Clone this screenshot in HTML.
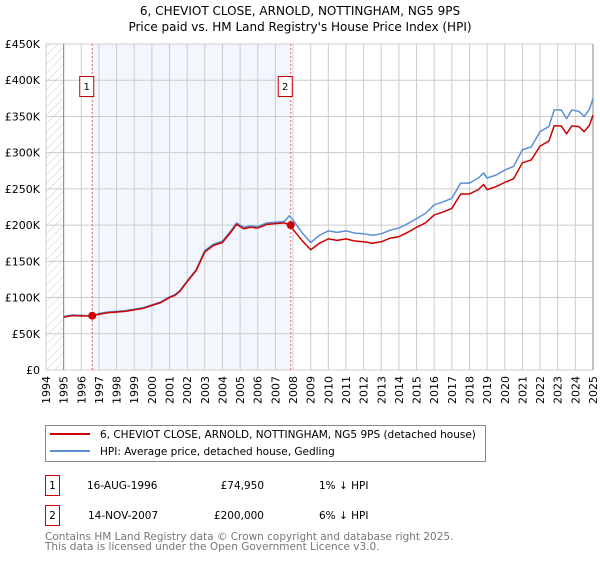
<!DOCTYPE html>
<html><head><meta charset="utf-8"><style>
body{margin:0;background:#fff;font-family:"Liberation Sans","DejaVu Sans",sans-serif;}
svg text{font-family:"DejaVu Sans","Liberation Sans",sans-serif;}
</style></head><body>
<svg id="chart" width="600" height="560" viewBox="0 0 600 560" xmlns="http://www.w3.org/2000/svg">
<defs><pattern id="hatch" width="6" height="6" patternUnits="userSpaceOnUse" patternTransform="rotate(45)"><line x1="0" y1="0" x2="0" y2="6" stroke="#ccc" stroke-width="1"/></pattern></defs>
<text x="300" y="15" text-anchor="middle" font-size="12" fill="#000">6, CHEVIOT CLOSE, ARNOLD, NOTTINGHAM, NG5 9PS</text>
<text x="300" y="31" text-anchor="middle" font-size="12" fill="#000">Price paid vs. HM Land Registry's House Price Index (HPI)</text>
<g id="plot"></g>
<g>
<rect x="45.5" y="425.5" width="440" height="36" fill="#fff" stroke="#888"/>
<line x1="50" y1="434" x2="90" y2="434" stroke="#cc0000" stroke-width="2"/>
<text x="100" y="438" font-size="10.5">6, CHEVIOT CLOSE, ARNOLD, NOTTINGHAM, NG5 9PS (detached house)</text>
<line x1="50" y1="451" x2="90" y2="451" stroke="#5b8fd4" stroke-width="2"/>
<text x="100" y="455" font-size="10.5">HPI: Average price, detached house, Gedling</text>
</g>
<g font-size="10.5">
<rect x="45.5" y="475.5" width="14" height="20" fill="#fff" stroke="#cc0000"/>
<text x="52.5" y="489" text-anchor="middle">1</text>
<text x="87" y="489">16-AUG-1996</text>
<text x="264" y="489" text-anchor="end">£74,950</text>
<text x="319" y="489">1% ↓ HPI</text>
<rect x="45.5" y="505.5" width="14" height="20" fill="#fff" stroke="#cc0000"/>
<text x="52.5" y="519" text-anchor="middle">2</text>
<text x="88" y="519">14-NOV-2007</text>
<text x="264" y="519" text-anchor="end">£200,000</text>
<text x="319" y="519">6% ↓ HPI</text>
</g>
<text x="45" y="540" font-size="10.5" fill="#777">Contains HM Land Registry data © Crown copyright and database right 2025.</text>
<text x="45" y="550" font-size="10.5" fill="#777">This data is licensed under the Open Government Licence v3.0.</text>
</svg>
<script>
const yearTicks=[1994,1995,1996,1997,1998,1999,2000,2001,2002,2003,2004,2005,2006,2007,2008,2009,2010,2011,2012,2013,2014,2015,2016,2017,2018,2019,2020,2021,2022,2023,2024,2025];
const valueTicks=[0,50000,100000,150000,200000,250000,300000,350000,400000,450000];
const valueLabels=["£0","£50K","£100K","£150K","£200K","£250K","£300K","£350K","£400K","£450K"];
const hpiYears=[1995.0,1995.5,1996.0,1996.6,1997.0,1997.5,1998.0,1998.5,1999.0,1999.5,2000.0,2000.5,2001.0,2001.3,2001.6,2002.0,2002.5,2003.0,2003.5,2004.0,2004.5,2004.8,2005.2,2005.6,2006.0,2006.5,2007.0,2007.5,2007.8,2008.0,2008.5,2009.0,2009.5,2010.0,2010.5,2011.0,2011.5,2012.0,2012.5,2013.0,2013.5,2014.0,2014.5,2015.0,2015.5,2016.0,2016.5,2017.0,2017.5,2018.0,2018.5,2018.8,2019.0,2019.5,2020.0,2020.5,2021.0,2021.5,2022.0,2022.5,2022.8,2023.2,2023.5,2023.8,2024.2,2024.5,2024.8,2025.0];
const hpiValues=[74000,76000,75500,74000,78000,80000,81000,82000,84000,86000,90000,94000,101000,104000,110000,123000,138000,165000,174000,178000,193000,203000,197000,199000,198000,203000,204000,205000,213000,207000,190000,176000,186000,192000,190000,192000,189000,188000,186000,188000,193000,196000,202000,209000,216000,228000,232000,237000,258000,258000,265000,272000,265000,269000,276000,281000,304000,308000,329000,336000,359000,359000,347000,359000,357000,350000,360000,375000];
const priceYears=[1995.0,1995.5,1996.0,1996.62,1997.0,1997.5,1998.0,1998.5,1999.0,1999.5,2000.0,2000.5,2001.0,2001.3,2001.6,2002.0,2002.5,2003.0,2003.5,2004.0,2004.5,2004.8,2005.2,2005.6,2006.0,2006.5,2007.0,2007.5,2007.87,2008.0,2008.5,2009.0,2009.5,2010.0,2010.5,2011.0,2011.5,2012.0,2012.5,2013.0,2013.5,2014.0,2014.5,2015.0,2015.5,2016.0,2016.5,2017.0,2017.5,2018.0,2018.5,2018.8,2019.0,2019.5,2020.0,2020.5,2021.0,2021.5,2022.0,2022.5,2022.8,2023.2,2023.5,2023.8,2024.2,2024.5,2024.8,2025.0];
const priceValues=[73000,75000,74500,74950,77000,79000,80000,81000,83000,85000,89000,93000,100000,103000,109000,122000,137000,163000,172000,176000,191000,201000,195000,197000,196000,201000,202000,203000,200000,194000,179000,166000,175000,181000,179000,181000,178000,177000,175000,177000,182000,184000,190000,197000,203000,214000,218000,223000,243000,243000,249000,256000,249000,253000,259000,264000,286000,290000,309000,316000,337000,337000,326000,337000,336000,329000,338000,352000];
const saleYears=[1996.62,2007.87];
const salePrices=[74950,200000];
const saleLabels=["1","2"];

const L=46,R=593,T=44,B=370;
const x=y=>L+(y-1994)*(R-L)/31;
const yv=v=>B-v*(B-T)/450000;
const NS="http://www.w3.org/2000/svg";
const g=document.getElementById('plot');
function mk(tag,attrs,parent){const e=document.createElementNS(NS,tag);for(const k in attrs)e.setAttribute(k,attrs[k]);(parent||g).appendChild(e);return e;}

let e;
e=mk('rect',{x:x(saleYears[0]),y:T,width:x(saleYears[1])-x(saleYears[0]),height:B-T,fill:'#eef3fc',opacity:0.7});


e=mk('rect',{x:L,y:T,width:x(1995)-L,height:B-T,fill:'url(#hatch)'});



yearTicks.forEach(yr=>{
  const l=mk('line',{x1:x(yr),x2:x(yr),y1:T,y2:B,stroke:'#ccc','stroke-width':1});
  
  
  const tx=x(yr)+4, ty=B+6;
  const t=mk('text',{x:tx,y:ty,'font-size':'11','text-anchor':'end',transform:`rotate(-90 ${tx} ${ty})`});
  t.textContent=yr;
  
  
});
valueTicks.forEach((v,i)=>{
  const l=mk('line',{x1:L,x2:R,y1:yv(v),y2:yv(v),stroke:'#ccc','stroke-width':1});
  
  
  const t=mk('text',{x:L-6,y:yv(v)+4,'font-size':'11','text-anchor':'end'});
  t.textContent=valueLabels[i];
  
  
});
e=mk('line',{x1:x(1995),x2:x(1995),y1:T,y2:B,stroke:'#888'});


e=mk('line',{x1:R,x2:R,y1:T,y2:B,stroke:'#888'});



saleYears.forEach((sy,i)=>{
  const l=mk('line',{x1:x(sy),x2:x(sy),y1:T,y2:B,stroke:'#e06060','stroke-dasharray':'2,2'});
  
  
  const r=mk('rect',{x:x(sy)-12.5,y:76.5,width:14,height:20,fill:'#fff',stroke:'#cc0000'});
  
  
  const t=mk('text',{x:x(sy)-5.5,y:90,'font-size':'10','text-anchor':'middle'});
  t.textContent=saleLabels[i];
  
  
});

e=mk('polyline',{points:hpiYears.map((yr,i)=>x(yr)+','+yv(hpiValues[i])).join(' '),fill:'none',stroke:'#5b8fd4','stroke-width':1.5,'stroke-linejoin':'round'});


e=mk('polyline',{points:priceYears.map((yr,i)=>x(yr)+','+yv(priceValues[i])).join(' '),fill:'none',stroke:'#cc0000','stroke-width':1.5,'stroke-linejoin':'round'});


saleYears.forEach((sy,i)=>{
  const c=mk('circle',{cx:x(sy),cy:yv(salePrices[i]),r:4,fill:'#cc0000'});
  
  
});
</script>
</body></html>
